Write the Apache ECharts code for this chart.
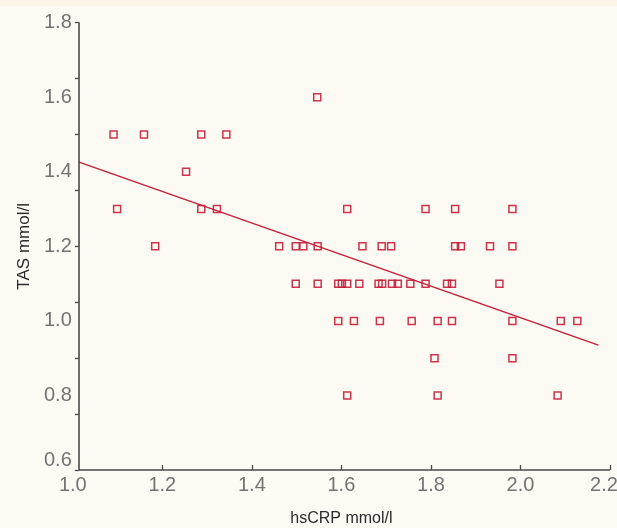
<!DOCTYPE html>
<html>
<head>
<meta charset="utf-8">
<script src="https://cdn.jsdelivr.net/npm/echarts@6/dist/echarts.min.js"></script>
<style>
html,body{margin:0;padding:0;background:#fdfaf4;}
#chart{width:617px;height:528px;}
</style>
</head>
<body>
<div id="chart"></div>
<script>
// ---- data ----
const hsCRP = [
  1.546,
  1.091, 1.159, 1.287, 1.343,
  1.253,
  1.099, 1.287, 1.322, 1.613, 1.788, 1.854, 1.982,
  1.184, 1.461, 1.498, 1.515, 1.547, 1.647, 1.690, 1.711, 1.854, 1.867, 1.932, 1.982,
  1.498, 1.547, 1.593, 1.601, 1.613, 1.640, 1.683, 1.691, 1.713, 1.726, 1.754, 1.788, 1.836, 1.847, 1.953,
  1.593, 1.628, 1.686, 1.757, 1.815, 1.847, 1.982, 2.090, 2.127,
  1.808, 1.982,
  1.613, 1.815, 2.083
];
const TAS = [
  1.6,
  1.5, 1.5, 1.5, 1.5,
  1.4,
  1.3, 1.3, 1.3, 1.3, 1.3, 1.3, 1.3,
  1.2, 1.2, 1.2, 1.2, 1.2, 1.2, 1.2, 1.2, 1.2, 1.2, 1.2, 1.2,
  1.1, 1.1, 1.1, 1.1, 1.1, 1.1, 1.1, 1.1, 1.1, 1.1, 1.1, 1.1, 1.1, 1.1, 1.1,
  1.0, 1.0, 1.0, 1.0, 1.0, 1.0, 1.0, 1.0, 1.0,
  0.9, 0.9,
  0.8, 0.8, 0.8
];
const fitX = [1.014, 2.174];
const fitY = [1.426, 0.935];
const xAxisLineX = [1.014, 2.2];
const xLabels = [1.0, 1.2, 1.4, 1.6, 1.8, 2.0, 2.2];
const xTicks = [1.2, 1.4, 1.6, 1.8, 2.0, 2.2];
const yLabels = [0.6, 0.8, 1.0, 1.2, 1.4, 1.6, 1.8];
const yTicks = [0.6, 0.75, 0.9, 1.05, 1.2, 1.35, 1.5, 1.65, 1.8];

// ---- chart ----
const RED = '#c41e3a';
const AXIS = '#4a4a4a';
const LABEL = '#737373';
const FONT = '"Liberation Sans", Arial, sans-serif';
const X_MAX = xLabels[xLabels.length - 1];

const chart = echarts.init(document.getElementById('chart'), null, {renderer: 'canvas'});
chart.setOption({
  backgroundColor: '#fdfaf4',
  animation: false,
  graphic: [{type: 'rect', left: 0, top: 0, shape: {width: 617, height: 6}, style: {fill: '#fbf5e7'}, silent: true}],
  grid: {left: 72.8, right: 7, top: 22.7, bottom: 58, containLabel: false, outerBoundsMode: 'none'},
  xAxis: {
    type: 'value', min: 1.0, max: 2.2, interval: 0.2,
    name: 'hsCRP mmol/l', nameLocation: 'middle', nameGap: 41,
    nameTextStyle: {fontFamily: FONT, fontSize: 16, color: '#2b2b2b'},
    axisLine: {show: false},
    axisTick: {show: true, inside: true, length: 5, lineStyle: {color: AXIS, width: 1.3}, customValues: xTicks},
    axisLabel: {fontFamily: FONT, fontSize: 20, color: LABEL, margin: 5, customValues: xLabels,
      formatter: v => Math.abs(v - X_MAX) < 1e-9 ? '{r|' + v.toFixed(1) + '}' : v.toFixed(1),
      rich: {r: {fontFamily: FONT, fontSize: 20, color: LABEL, padding: [0, 12, 0, 0]}}},
    splitLine: {show: false}
  },
  yAxis: {
    type: 'value', min: 0.6, max: 1.8, interval: 0.2, offset: -6,
    name: 'TAS mmol/l', nameLocation: 'middle', nameGap: 45, nameRotate: 90,
    nameTextStyle: {fontFamily: FONT, fontSize: 17, color: '#2b2b2b'},
    axisLine: {show: true, lineStyle: {color: AXIS, width: 1.6}},
    axisTick: {show: true, inside: false, length: 4, lineStyle: {color: AXIS, width: 1.3}, customValues: yTicks},
    axisLabel: {fontFamily: FONT, fontSize: 20, color: LABEL, margin: 7, customValues: yLabels,
      verticalAlignMinLabel: 'bottom', formatter: v => v.toFixed(1)},
    splitLine: {show: false}
  },
  series: [
    {
      type: 'line', data: xAxisLineX.map(x => [x, 0.6]), symbol: 'none', clip: false, silent: true,
      lineStyle: {color: AXIS, width: 1.6}, z: 1
    },
    {
      type: 'line', data: fitX.map((x, i) => [x, fitY[i]]), symbol: 'none', clip: false,
      lineStyle: {color: RED, width: 1.5}, z: 2
    },
    {
      type: 'scatter', data: hsCRP.map((x, i) => [x, TAS[i]]), symbol: 'rect', symbolSize: 7,
      itemStyle: {color: 'rgba(255,255,255,0)', borderColor: RED, borderWidth: 1.5, opacity: 0.9}, z: 3
    }
  ]
});
</script>
</body>
</html>
